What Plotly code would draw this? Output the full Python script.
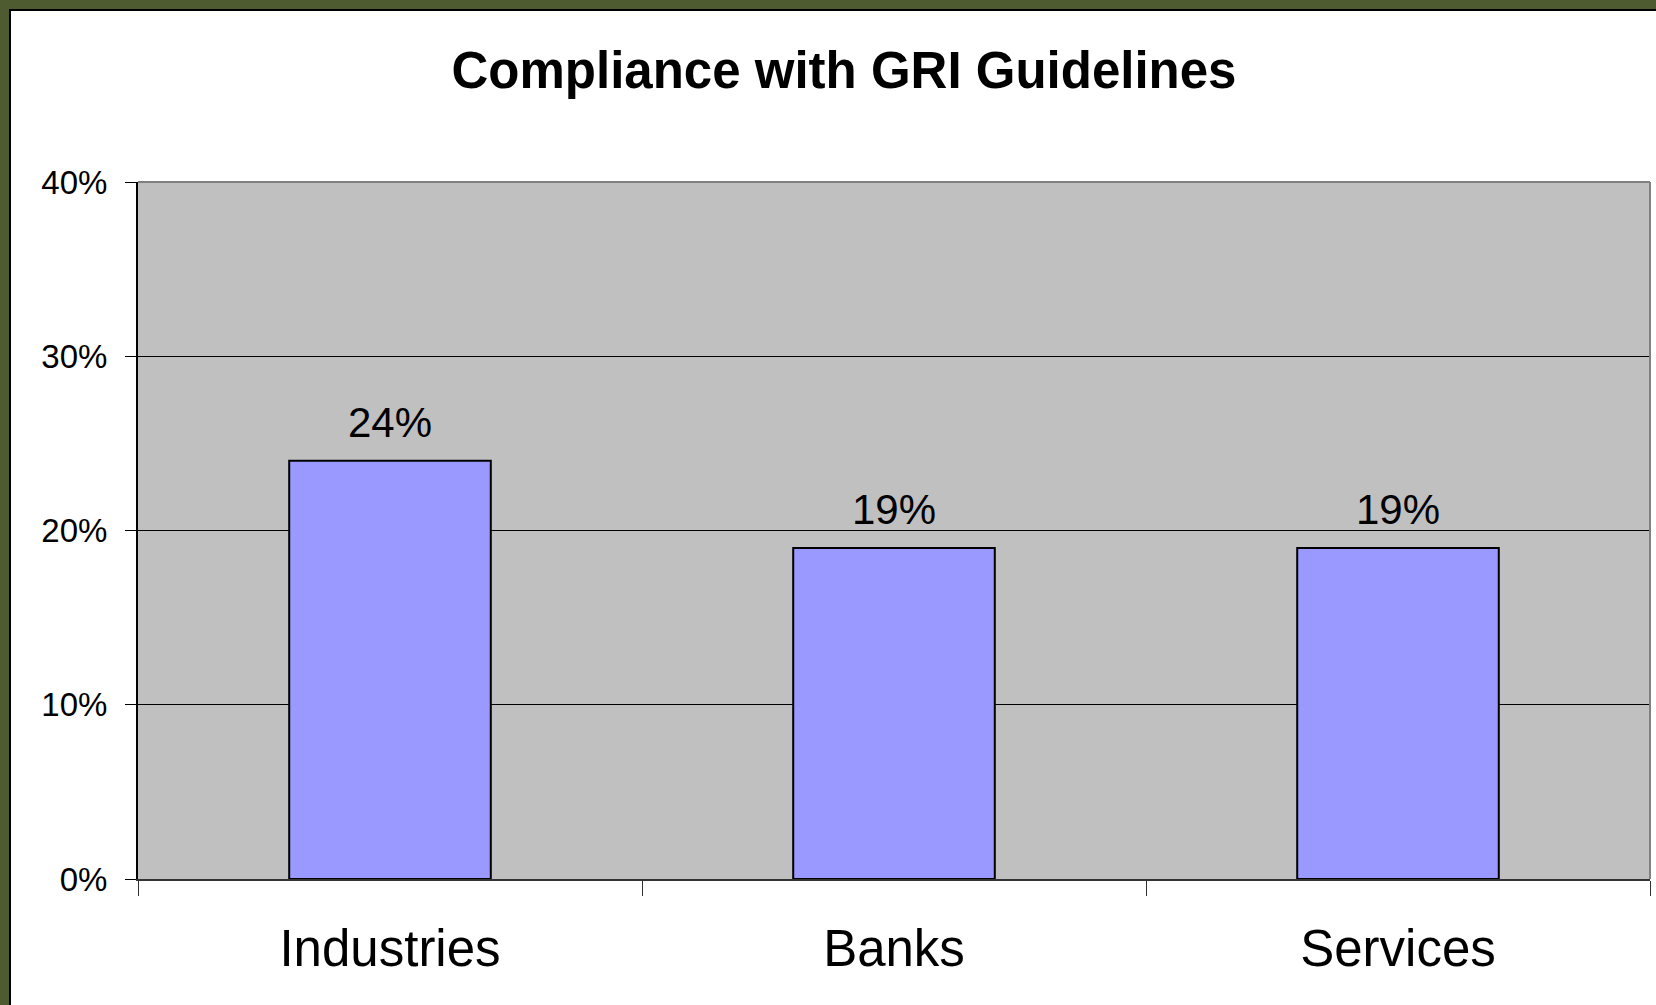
import plotly.graph_objects as go

# chart values
categories = ["Industries", "Banks", "Services"]
compliance = [0.24, 0.19, 0.19]
y_ticks = [0, 0.1, 0.2, 0.3, 0.4]
title_text = "Compliance with GRI Guidelines"

W, H = 1656, 1005
ml, mr, mt, mb = 138, 6, 182, 126
pw, ph = W - ml - mr, H - mt - mb


def px_to_paper_x(p):
    return (p - ml) / pw


def px_to_paper_y(p):
    return (H - mb - p) / ph


font = "Liberation Sans, Arial, sans-serif"

fig = go.Figure()
fig.add_trace(go.Bar(
    x=categories,
    y=compliance,
    marker=dict(color="#9999FF", line=dict(color="black", width=2)),
    width=0.4,
    hoverinfo="skip",
))

# value labels above the bars
for c, v in zip(categories, compliance):
    fig.add_annotation(
        x=c, y=v, text=f"{v:.0%}", showarrow=False,
        yanchor="bottom", yshift=13,
        font=dict(family=font, size=42, color="black"),
    )

shapes = [
    # white panel inside the olive frame
    dict(type="rect", xref="paper", yref="paper", layer="below",
         x0=px_to_paper_x(10), x1=px_to_paper_x(W + 20),
         y0=px_to_paper_y(H + 20), y1=px_to_paper_y(10),
         fillcolor="white", line=dict(color="black", width=2)),
    # grey plot area (panel covers plot_bgcolor)
    dict(type="rect", xref="paper", yref="paper", layer="below",
         x0=0, x1=1, y0=0, y1=1,
         fillcolor="#C0C0C0", line=dict(width=0)),
    # grey top and right border of plot area
    dict(type="line", xref="paper", yref="paper", x0=0, x1=1, y0=1, y1=1,
         line=dict(color="#808080", width=2)),
    dict(type="line", xref="paper", yref="paper", x0=1, x1=1, y0=0, y1=1,
         line=dict(color="#808080", width=2)),
]

fig.update_layout(
    width=W, height=H,
    margin=dict(l=ml, r=mr, t=mt, b=mb),
    paper_bgcolor="#4E5A30",
    plot_bgcolor="#C0C0C0",
    showlegend=False,
    shapes=shapes,
    title=dict(
        text=f"<b>{title_text}</b>",
        x=844 / W, xanchor="center",
        y=1 - 70 / H, yanchor="middle",
        font=dict(family=font, size=51, color="black"),
    ),
)

fig.update_xaxes(
    type="category",
    tickson="boundaries",
    ticks="outside", ticklen=15, tickwidth=1, tickcolor="#333333",
    showline=True, linecolor="#333333", linewidth=2,
    showgrid=False,
    tickfont=dict(family=font, size=51, color="black"),
    ticklabelstandoff=24,
)
fig.update_yaxes(
    range=[0, 0.4],
    tickvals=y_ticks,
    tickformat=".0%",
    ticks="outside", ticklen=11, tickwidth=1, tickcolor="black",
    showline=True, linecolor="black", linewidth=2,
    showgrid=True, gridcolor="black", gridwidth=1,
    zeroline=False,
    tickfont=dict(family=font, size=33, color="black"),
    ticklabelstandoff=11,
)

fig.write_html(
    "out.html",
    config={"displayModeBar": False},
    post_script="document.body.style.margin='0';document.body.style.overflow='hidden';",
)
